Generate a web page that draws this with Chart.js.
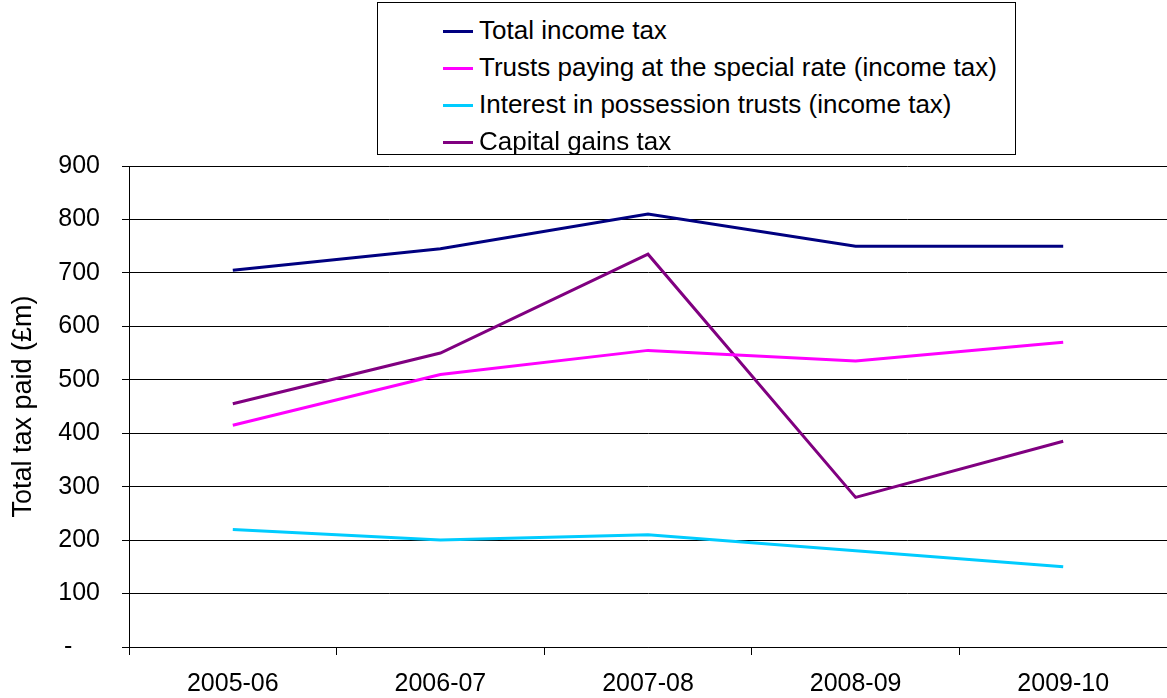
<!DOCTYPE html>
<html>
<head>
<meta charset="utf-8">
<script src="https://cdn.jsdelivr.net/npm/chart.js@4/dist/chart.umd.min.js"></script>
<style>
  html, body { margin: 0; padding: 0; background: #fff; }
  #wrap { position: relative; width: 1167px; height: 698px; }
  #legend {
    position: absolute; left: 377px; top: 2px; width: 639px; height: 153px;
    border: 1px solid #000; background: #fff; box-sizing: border-box;
    font-family: "Liberation Sans", Arial, sans-serif; font-size: 26px; color: #000;
  }
  #legend .item { position: absolute; left: 65px; height: 30px; line-height: 30px; white-space: nowrap; }
  #legend .swatch { display: inline-block; width: 30px; height: 3px; vertical-align: middle; margin-right: 6px; position: relative; top: -1px; }
</style>
</head>
<body>
<div id="wrap">
  <canvas id="chart" width="1167" height="698"></canvas>
  <div id="legend"></div>
</div>
<script>
// Tax paid by trusts, £m
const years = ['2005-06', '2006-07', '2007-08', '2008-09', '2009-10'];
const totalIncomeTax = [705, 745, 810, 750, 750];
const specialRate = [415, 510, 555, 535, 570];
const interestInPossession = [220, 200, 210, 180, 150];
const capitalGains = [455, 550, 735, 280, 385];

const seriesNames = [
  'Total income tax',
  'Trusts paying at the special rate (income tax)',
  'Interest in possession trusts (income tax)',
  'Capital gains tax',
];
const seriesColors = ['#000080', '#ff00ff', '#00ccff', '#800080'];

const FONT = '"Liberation Sans", Arial, sans-serif';

function line(label, data, color) {
  return { label, data, borderColor: color, backgroundColor: color, borderWidth: 3, pointRadius: 0, tension: 0, fill: false };
}

const chart = new Chart(document.getElementById('chart'), {
  type: 'line',
  data: {
    labels: years,
    datasets: [
      line(seriesNames[0], totalIncomeTax, seriesColors[0]),
      line(seriesNames[1], specialRate, seriesColors[1]),
      line(seriesNames[2], interestInPossession, seriesColors[2]),
      line(seriesNames[3], capitalGains, seriesColors[3]),
    ],
  },
  options: {
    responsive: false, animation: false,
    layout: { padding: { top: 166, left: 0, right: 0, bottom: 0 } },
    plugins: { legend: { display: false }, tooltip: { enabled: false } },
    scales: {
      x: {
        offset: true,
        grid: { offset: true, drawOnChartArea: false, color: '#000', tickLength: 8 },
        border: { color: '#000', width: 1 },
        ticks: { color: '#000', font: { family: FONT, size: 25 }, padding: 14, maxRotation: 0 },
        afterFit: s => { s.height = 51; },
      },
      y: {
        min: 0, max: 900,
        grid: { color: '#000', lineWidth: 1, tickLength: 7 },
        border: { color: '#000', width: 1 },
        ticks: {
          stepSize: 100, color: '#000', font: { family: FONT, size: 25 }, padding: 22,
          callback: v => v === 0 ? '-    ' : v,
        },
        title: { display: true, text: 'Total tax paid (£m)', color: '#000', font: { family: FONT, size: 27 }, padding: { top: 7, bottom: 0 } },
        afterFit: s => { s.width = 129; },
      },
    },
  },
});

// Boxed legend built from the datasets
const legend = document.getElementById('legend');
chart.data.datasets.forEach((d, i) => {
  const item = document.createElement('div');
  item.className = 'item';
  item.style.top = (12 + i * 37) + 'px';
  const sw = document.createElement('span');
  sw.className = 'swatch';
  sw.style.background = d.borderColor;
  item.appendChild(sw);
  item.appendChild(document.createTextNode(d.label));
  legend.appendChild(item);
});
</script>
</body>
</html>
